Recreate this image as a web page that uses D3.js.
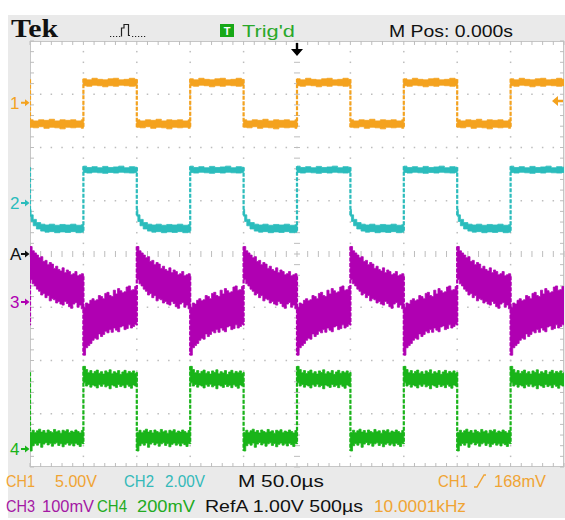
<!DOCTYPE html>
<html><head><meta charset="utf-8">
<script src="https://cdn.jsdelivr.net/npm/d3@7"></script>
<style>html,body{margin:0;padding:0;background:#fff;} svg{display:block;}</style>
</head><body><svg id="c" width="565" height="520"></svg>
<script>
// ---------------- data ----------------
const timeDomain = [-250, 250];          // µs (50 µs/div, trigger at 0)
const divDomain = [-4, 4];               // vertical divisions
const risingEdges = [-200, -100, 0, 100, 200];   // CH1 rising edges (µs)
const fallingEdges = [-250, -150, -50, 50, 150]; // CH1 falling edges (µs)

const channelNames = ["CH1", "CH2", "CH3", "CH4"];
const channelVoltsPerDiv = [5, 2, 0.1, 0.2];
const channelOffsetDiv = [2.84, 0.96, -0.9, -3.66];
const refAOffsetDiv = 0;
const triggerLevelV = 0.168;

// each phase: time offset after edge (µs), upper / lower envelope (V)
const ch1HighT  = [0, 3, 8, 13, 18, 23, 28, 33, 38, 43, 48, 50];
const ch1HighUp = [2.25, 2.15, 2.3, 2.2, 2.15, 2.25, 2.3, 2.15, 2.2, 2.3, 2.2, 2.2];
const ch1HighLo = [1.6, 1.55, 1.65, 1.6, 1.5, 1.6, 1.55, 1.65, 1.6, 1.55, 1.6, 1.6];
const ch1LowT   = [0, 3, 8, 13, 18, 23, 28, 33, 38, 43, 48, 50];
const ch1LowUp  = [-1.6, -1.7, -1.6, -1.65, -1.55, -1.7, -1.6, -1.65, -1.6, -1.7, -1.6, -1.6];
const ch1LowLo  = [-2.3, -2.35, -2.25, -2.4, -2.3, -2.35, -2.45, -2.3, -2.35, -2.3, -2.4, -2.4];

const ch2HighT  = [0, 3, 8, 13, 18, 23, 28, 33, 38, 43, 48, 50];
const ch2HighUp = [1.38, 1.33, 1.36, 1.32, 1.37, 1.33, 1.35, 1.38, 1.32, 1.36, 1.34, 1.34];
const ch2HighLo = [1.14, 1.12, 1.15, 1.13, 1.11, 1.14, 1.12, 1.15, 1.13, 1.12, 1.14, 1.14];
const ch2LowT   = [0, 1, 3, 6, 10, 14, 18, 23, 28, 33, 38, 43, 48, 50];
const ch2LowUp  = [-0.25, -0.45, -0.62, -0.74, -0.8, -0.83, -0.8, -0.84, -0.81, -0.83, -0.8, -0.84, -0.82, -0.82];
const ch2LowLo  = [-0.5, -0.7, -0.86, -0.98, -1.06, -1.1, -1.08, -1.12, -1.09, -1.11, -1.08, -1.12, -1.1, -1.1];

const ch3LowT   = [0, 2, 4, 6, 8, 10, 12, 14, 16, 18, 20, 22, 24, 26, 28, 30, 32, 34, 36, 38, 40, 42, 44, 46, 48, 50];
const ch3LowUp  = [-0.010, -0.002, -0.004, 0.003, 0.006, 0.002, 0.004, 0.012, 0.010, 0.006, 0.016, 0.018, 0.012, 0.010, 0.022, 0.015, 0.025, 0.021, 0.017, 0.019, 0.028, 0.030, 0.022, 0.023, 0.029, 0.026];
const ch3LowLo  = [-0.100, -0.086, -0.082, -0.078, -0.072, -0.068, -0.070, -0.060, -0.065, -0.061, -0.055, -0.058, -0.052, -0.057, -0.049, -0.053, -0.056, -0.047, -0.045, -0.052, -0.050, -0.043, -0.049, -0.046, -0.042, -0.044];
const ch3HighT  = [0, 2, 4, 6, 8, 10, 12, 14, 16, 18, 20, 22, 24, 26, 28, 30, 32, 34, 36, 38, 40, 42, 44, 46, 48, 50];
const ch3HighUp = [0.104, 0.096, 0.092, 0.088, 0.083, 0.085, 0.076, 0.078, 0.070, 0.074, 0.071, 0.063, 0.067, 0.061, 0.058, 0.064, 0.055, 0.060, 0.057, 0.051, 0.053, 0.057, 0.049, 0.051, 0.053, 0.048];
const ch3HighLo = [0.042, 0.034, 0.030, 0.024, 0.020, 0.013, 0.016, 0.008, 0.012, 0.002, 0.006, 0.004, -0.002, 0.001, -0.004, -0.006, 0.001, -0.003, -0.009, -0.012, -0.004, -0.001, -0.010, -0.006, -0.013, -0.008];

const ch4HighT  = [0, 2, 4, 6, 8, 10, 12, 14, 16, 18, 20, 22, 24, 26, 28, 30, 32, 34, 36, 38, 40, 42, 44, 46, 48, 50];
const ch4HighUp = [0.310, 0.298, 0.286, 0.294, 0.283, 0.291, 0.296, 0.284, 0.290, 0.281, 0.293, 0.287, 0.297, 0.282, 0.290, 0.285, 0.294, 0.280, 0.289, 0.295, 0.284, 0.291, 0.286, 0.293, 0.283, 0.288];
const ch4HighLo = [0.248, 0.236, 0.242, 0.232, 0.240, 0.236, 0.229, 0.241, 0.235, 0.243, 0.233, 0.238, 0.226, 0.240, 0.236, 0.231, 0.242, 0.234, 0.239, 0.230, 0.241, 0.235, 0.228, 0.240, 0.236, 0.238];
const ch4LowT   = [0, 2, 4, 6, 8, 10, 12, 14, 16, 18, 20, 22, 24, 26, 28, 30, 32, 34, 36, 38, 40, 42, 44, 46, 48, 50];
const ch4LowUp  = [0.062, 0.070, 0.061, 0.068, 0.074, 0.063, 0.069, 0.060, 0.071, 0.065, 0.062, 0.073, 0.064, 0.068, 0.059, 0.070, 0.066, 0.072, 0.061, 0.067, 0.063, 0.071, 0.065, 0.060, 0.069, 0.066];
const ch4LowLo  = [-0.008, 0.012, 0.020, 0.014, 0.022, 0.006, 0.018, 0.024, 0.015, 0.021, 0.010, 0.019, 0.023, 0.013, 0.020, 0.008, 0.017, 0.022, 0.014, 0.019, 0.011, 0.021, 0.016, 0.009, 0.020, 0.018];

const headerLabels = ["Tek", "Trig'd", "M Pos: 0.000s"];
const footerRow1 = ["CH1", "5.00V", "CH2", "2.00V", "M 50.0µs", "CH1", "168mV"];
const footerRow2 = ["CH3", "100mV", "CH4", "200mV", "RefA 1.00V 500µs", "10.0001kHz"];

// ---------------- build ----------------
function phase(T, U, L) { return T.map((t, i) => ({t: t, up: U[i], lo: L[i]})); }
const channels = [
  {color: "#f4a21e", afterRise: phase(ch1HighT, ch1HighUp, ch1HighLo), afterFall: phase(ch1LowT, ch1LowUp, ch1LowLo)},
  {color: "#2bbcbc", afterRise: phase(ch2HighT, ch2HighUp, ch2HighLo), afterFall: phase(ch2LowT, ch2LowUp, ch2LowLo)},
  {color: "#b000b2", afterRise: phase(ch3LowT, ch3LowUp, ch3LowLo), afterFall: phase(ch3HighT, ch3HighUp, ch3HighLo)},
  {color: "#19b419", afterRise: phase(ch4HighT, ch4HighUp, ch4HighLo), afterFall: phase(ch4LowT, ch4LowUp, ch4LowLo)}
];
channels.forEach((c, i) => { c.vpd = channelVoltsPerDiv[i]; c.off = channelOffsetDiv[i]; c.name = channelNames[i]; });

const W = 565, H = 520;
const gL = 30, gR = 564, gT = 41, gB = 467;
const x = d3.scaleLinear().domain(timeDomain).range([gL, gR]);
const y = d3.scaleLinear().domain(divDomain).range([gB, gT]);
const yv = (c, v) => y(c.off + v / c.vpd);

const svg = d3.select("#c");
svg.append("rect").attr("x", 0).attr("y", 0).attr("width", W).attr("height", H).attr("fill", "#fff");
svg.append("rect").attr("x", 8).attr("y", 15).attr("width", W - 8).attr("height", 503).attr("fill", "#eaeaea");
svg.append("rect").attr("x", gL).attr("y", gT).attr("width", gR - gL).attr("height", gB - gT).attr("fill", "#fff");

const defs = svg.append("defs");
defs.append("clipPath").attr("id", "clip").append("rect")
  .attr("x", gL).attr("y", gT).attr("width", gR - gL).attr("height", gB - gT);

// graticule
const grid = svg.append("g");
const gridCol = "#bdbdbd";
const majorX = x.ticks(10), minorX = x.ticks(50);
const majorY = y.ticks(8), minorY = d3.range(-20, 21).map(d => d / 5);
majorX.filter(v => v !== 0 && v !== timeDomain[0] && v !== timeDomain[1]).forEach(mx => {
  minorY.filter(v => Math.abs(v) < 4).forEach(my => {
    grid.append("rect").attr("x", x(mx) - 0.75).attr("y", y(my) - 0.75).attr("width", 1.5).attr("height", 1.5).attr("fill", gridCol);
  });
});
majorY.filter(v => v !== 0 && Math.abs(v) < 4).forEach(my => {
  minorX.filter(v => v > timeDomain[0] && v < timeDomain[1]).forEach(mx => {
    grid.append("rect").attr("x", x(mx) - 0.75).attr("y", y(my) - 0.75).attr("width", 1.5).attr("height", 1.5).attr("fill", gridCol);
  });
});
// centre cross with ticks
minorX.forEach(mx => grid.append("line").attr("x1", x(mx)).attr("x2", x(mx)).attr("y1", y(0) - 3).attr("y2", y(0) + 3).attr("stroke", gridCol).attr("stroke-width", 1));
minorY.forEach(my => grid.append("line").attr("x1", x(0) - 3).attr("x2", x(0) + 3).attr("y1", y(my)).attr("y2", y(my)).attr("stroke", gridCol).attr("stroke-width", 1));
// border rulers
grid.append("rect").attr("x", gL + 0.5).attr("y", gT + 0.5).attr("width", gR - gL - 1).attr("height", gB - gT - 1)
  .attr("fill", "none").attr("stroke", "#c6c6c6").attr("stroke-width", 1);
minorX.forEach(mx => {
  grid.append("line").attr("x1", x(mx)).attr("x2", x(mx)).attr("y1", gT).attr("y2", gT + 4).attr("stroke", gridCol);
  grid.append("line").attr("x1", x(mx)).attr("x2", x(mx)).attr("y1", gB - 4).attr("y2", gB).attr("stroke", gridCol);
});
minorY.forEach(my => {
  grid.append("line").attr("x1", gL).attr("x2", gL + 4).attr("y1", y(my)).attr("y2", y(my)).attr("stroke", gridCol);
  grid.append("line").attr("x1", gR - 4).attr("x2", gR).attr("y1", y(my)).attr("y2", y(my)).attr("stroke", gridCol);
});

// traces
const traces = svg.append("g").attr("clip-path", "url(#clip)");
channels.forEach(c => {
  const g = traces.append("g");
  const area = d3.area().x(d => x(d.t0 + d.t)).y0(d => yv(c, d.lo)).y1(d => yv(c, d.up)).curve(d3.curveStepAfter);
  const segs = [];
  risingEdges.forEach(e => segs.push({edge: e, data: c.afterRise, prev: c.afterFall}));
  fallingEdges.forEach(e => segs.push({edge: e, data: c.afterFall, prev: c.afterRise}));
  segs.forEach(s => {
    const d = s.data.map(p => ({t0: s.edge, t: p.t, up: p.up, lo: p.lo}));
    g.append("path").attr("d", area(d)).attr("fill", c.color).attr("stroke", c.color).attr("stroke-width", 0.8);
    const a = s.prev[s.prev.length - 1], b = s.data[0];
    const top = Math.max(a.up, b.up), bot = Math.min(a.lo, b.lo);
    g.append("line").attr("x1", x(s.edge)).attr("x2", x(s.edge))
      .attr("y1", yv(c, top)).attr("y2", yv(c, bot))
      .attr("stroke", c.color).attr("stroke-width", 2.2).attr("stroke-dasharray", "4,1.5");
  });
});

// channel ground markers
const markFont = "'Liberation Sans Narrow','Liberation Sans',Arial,sans-serif";
function marker(label, color, yy) {
  svg.append("text").attr("x", 10).attr("y", yy + 6).attr("fill", color)
    .attr("font-family", markFont).attr("font-size", 17).text(label);
  svg.append("path").attr("d", `M21,${yy - 1}H25V${yy - 3.5}L29.5,${yy}L25,${yy + 3.5}V${yy + 1}H21Z`).attr("fill", color);
}
channels.forEach((c, i) => marker(String(i + 1), c.color, y(c.off)));
marker("A", "#111", y(refAOffsetDiv));

// trigger level arrow (right) and trigger position arrow (top)
const trigY = yv(channels[0], triggerLevelV);
svg.append("path").attr("d", `M552,${trigY}L558,${trigY - 5}V${trigY - 1.2}H563V${trigY + 1.2}H558V${trigY + 5}Z`).attr("fill", channels[0].color);
const tx = x(0);
svg.append("path").attr("d", `M${tx - 1.2},43H${tx + 1.2}V49H${tx + 6}L${tx},56L${tx - 6},49H${tx - 1.2}Z`).attr("fill", "#000");

// header
const font = "'Liberation Sans Narrow','Liberation Sans',Arial,sans-serif";
svg.append("text").attr("x", 11).attr("y", 37).attr("font-family", "'Liberation Serif','Times New Roman',serif")
  .attr("font-weight", "bold").attr("font-size", 26).attr("fill", "#111")
  .attr("textLength", 47).attr("lengthAdjust", "spacingAndGlyphs").text(headerLabels[0]);
// acquisition icon
svg.append("path").attr("d", "M110,36.5h1.2M113,36.5h1.2M116,36.5h1.2M119,36.5h1.2M121.5,36.5V28h2.5V24.5h4.5V35.5h1.5M132,36.5h1.2M135,36.5h1.2M138,36.5h1.2M141,36.5h1.2M144,36.5h1.2")
  .attr("fill", "none").attr("stroke", "#222").attr("stroke-width", 1.2);
svg.append("rect").attr("x", 220).attr("y", 24).attr("width", 14).attr("height", 13).attr("fill", "#17a817");
svg.append("text").attr("x", 227).attr("y", 35).attr("text-anchor", "middle").attr("font-family", "Arial,sans-serif")
  .attr("font-weight", "bold").attr("font-size", 11).attr("fill", "#fff").text("T");
svg.append("text").attr("x", 242).attr("y", 37).attr("font-family", font).attr("font-size", 17).attr("fill", "#2aa82a")
  .attr("textLength", 53).attr("lengthAdjust", "spacingAndGlyphs").text(headerLabels[1]);
svg.append("text").attr("x", 389).attr("y", 37).attr("font-family", font).attr("font-size", 17).attr("fill", "#111")
  .attr("textLength", 124).attr("lengthAdjust", "spacingAndGlyphs").text(headerLabels[2]);

// footer
const orangeT = "#f0a434", cyanT = "#33b9b9", magT = "#a418a4", greenT = "#22ab22";
function ftext(s, xx, yy, w, col) {
  svg.append("text").attr("x", xx).attr("y", yy).attr("font-family", font).attr("font-size", 17).attr("fill", col)
    .attr("textLength", w).attr("lengthAdjust", "spacingAndGlyphs").text(s);
}
const r1 = 487, r2 = 512;
ftext(footerRow1[0], 6, r1, 29, orangeT);
ftext(footerRow1[1], 55, r1, 42, orangeT);
ftext(footerRow1[2], 124, r1, 30, cyanT);
ftext(footerRow1[3], 165, r1, 40, cyanT);
ftext(footerRow1[4], 238, r1, 86, "#111");
ftext(footerRow1[5], 438, r1, 30, orangeT);
svg.append("path").attr("d", `M474,${r1}h3l7,-12h2`).attr("fill", "none").attr("stroke", orangeT).attr("stroke-width", 1.4);
ftext(footerRow1[6], 494, r1, 52, orangeT);
ftext(footerRow2[0], 6, r2, 29, magT);
ftext(footerRow2[1], 42, r2, 52, magT);
ftext(footerRow2[2], 97, r2, 30, greenT);
ftext(footerRow2[3], 137, r2, 58, greenT);
ftext(footerRow2[4], 205, r2, 158, "#111");
ftext(footerRow2[5], 374, r2, 92, orangeT);
</script></body></html>
